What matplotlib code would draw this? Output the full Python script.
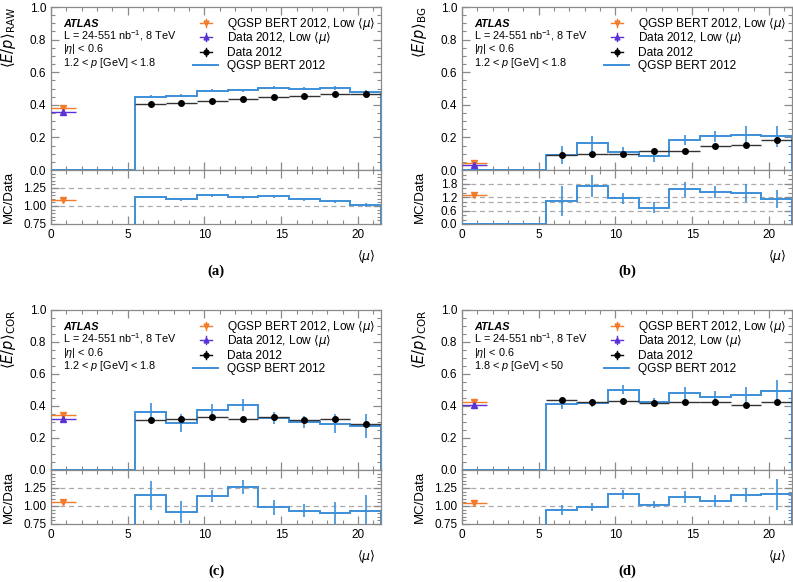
import matplotlib
matplotlib.use("Agg")
import matplotlib.pyplot as plt
from matplotlib.ticker import MultipleLocator, FixedLocator

plt.rcParams["font.family"] = ["Liberation Sans", "DejaVu Sans"]
plt.rcParams["mathtext.fontset"] = "custom"
plt.rcParams["mathtext.rm"] = "Liberation Sans"
plt.rcParams["mathtext.it"] = "Liberation Sans:italic"
plt.rcParams["mathtext.bf"] = "Liberation Sans:bold"
plt.rcParams["font.size"] = 8

# -----------------------------
# data
# -----------------------------
edges = [0, 5.5, 7.5, 9.5, 11.5, 13.5, 15.5, 17.5, 19.5, 21.5]
mu_centers = [6.5, 8.5, 10.5, 12.5, 14.5, 16.5, 18.5, 20.5]
low_mu_x = 0.8
low_mu_xerr = 0.8

panel_names = ["a", "b", "c", "d"]
ylabels = [r"$\langle E/p\rangle_{\rm RAW}$", r"$\langle E/p\rangle_{\rm BG}$",
           r"$\langle E/p\rangle_{\rm COR}$", r"$\langle E/p\rangle_{\rm COR}$"]
p_ranges = [r"1.2 < $p$ [GeV] < 1.8", r"1.2 < $p$ [GeV] < 1.8",
            r"1.2 < $p$ [GeV] < 1.8", r"1.8 < $p$ [GeV] < 50"]
info_lines = ["ATLAS", r"L = 24-551 nb$^{-1}$, 8 TeV", r"|$\eta$| < 0.6"]
legend_labels = [r"QGSP BERT 2012, Low $\langle\mu\rangle$",
                 r"Data 2012, Low $\langle\mu\rangle$",
                 "Data 2012", "QGSP BERT 2012"]

data_a = [0.402, 0.414, 0.424, 0.435, 0.445, 0.455, 0.465, 0.467]
data_b = [0.090, 0.098, 0.098, 0.116, 0.118, 0.145, 0.153, 0.182]
data_c = [0.312, 0.317, 0.329, 0.321, 0.329, 0.312, 0.317, 0.290]
data_d = [0.437, 0.423, 0.429, 0.419, 0.425, 0.425, 0.404, 0.423]
data_err_a = [0.004, 0.004, 0.004, 0.004, 0.004, 0.004, 0.004, 0.004]
data_err_b = [0.005, 0.005, 0.005, 0.005, 0.005, 0.005, 0.005, 0.006]
data_err_c = [0.005, 0.005, 0.005, 0.005, 0.005, 0.005, 0.005, 0.006]
data_err_d = [0.005, 0.005, 0.005, 0.005, 0.005, 0.005, 0.005, 0.006]

mc_a = [0.449, 0.455, 0.486, 0.490, 0.506, 0.500, 0.502, 0.478]
mc_b = [0.094, 0.163, 0.112, 0.084, 0.184, 0.206, 0.214, 0.206]
mc_c = [0.360, 0.294, 0.373, 0.406, 0.323, 0.300, 0.290, 0.275]
mc_d = [0.410, 0.419, 0.503, 0.427, 0.482, 0.458, 0.468, 0.493]
mc_err_a = [0.010, 0.010, 0.010, 0.010, 0.012, 0.010, 0.012, 0.014]
mc_err_b = [0.056, 0.045, 0.027, 0.033, 0.033, 0.033, 0.057, 0.062]
mc_err_c = [0.060, 0.058, 0.038, 0.036, 0.037, 0.036, 0.057, 0.075]
mc_err_d = [0.030, 0.027, 0.030, 0.023, 0.036, 0.037, 0.050, 0.070]

ratio_a = [1.125, 1.093, 1.148, 1.120, 1.134, 1.093, 1.065, 1.014]
ratio_b = [1.03, 1.69, 1.15, 0.72, 1.54, 1.42, 1.38, 1.12]
ratio_c = [1.150, 0.917, 1.140, 1.260, 0.980, 0.935, 0.903, 0.935]
ratio_d = [0.945, 0.986, 1.160, 1.018, 1.128, 1.069, 1.151, 1.160]
ratio_err_a = [0.020, 0.020, 0.020, 0.020, 0.020, 0.020, 0.025, 0.030]
ratio_err_b = [0.68, 0.48, 0.25, 0.25, 0.32, 0.25, 0.38, 0.40]
ratio_err_c = [0.20, 0.15, 0.085, 0.095, 0.10, 0.09, 0.15, 0.22]
ratio_err_d = [0.07, 0.06, 0.06, 0.05, 0.08, 0.08, 0.10, 0.22]

low_mc = [0.382, 0.043, 0.342, 0.427]
low_data = [0.353, 0.033, 0.319, 0.404]
low_ratio = [1.088, 1.31, 1.056, 1.04]

data_all = [data_a, data_b, data_c, data_d]
data_err_all = [data_err_a, data_err_b, data_err_c, data_err_d]
mc_all = [mc_a, mc_b, mc_c, mc_d]
mc_err_all = [mc_err_a, mc_err_b, mc_err_c, mc_err_d]
ratio_all = [ratio_a, ratio_b, ratio_c, ratio_d]
ratio_err_all = [ratio_err_a, ratio_err_b, ratio_err_c, ratio_err_d]

blue = "#3d8fd9"
orange = "#f27b2c"
purple = "#5b32d6"
grey = "#8a8a8a"

W, H = 793, 582
fig = plt.figure(figsize=(W / 100, H / 100), dpi=100)

# pixel boxes: left, right, top, main bottom, ratio bottom
boxes = [
    (51, 381, 7, 170, 224),
    (462, 792, 7, 170, 224),
    (51, 381, 310, 470, 524),
    (462, 792, 310, 470, 524),
]


def style_axis(ax):
    for s in ax.spines.values():
        s.set_color(grey)
        s.set_linewidth(0.9)
    ax.tick_params(which="both", direction="in", top=True, right=True,
                   color=grey, labelsize=8.5)
    ax.tick_params(which="major", length=6, width=0.9)
    ax.tick_params(which="minor", length=3, width=0.8)
    ax.xaxis.set_major_locator(MultipleLocator(5))
    ax.xaxis.set_minor_locator(MultipleLocator(1))
    ax.set_xlim(0, 21.5)


for i in range(4):
    l, r, t, mb, rb = boxes[i]
    pw, ph = r - l, mb - t
    ax = fig.add_axes([l / W, 1 - mb / H, pw / W, ph / H])
    rax = fig.add_axes([l / W, 1 - rb / H, pw / W, (rb - mb) / H])
    style_axis(ax)
    style_axis(rax)

    def ax_xy(dx, dy):
        # pixel offset from the panel's top-left corner -> axes fraction
        return dx / pw, 1 - dy / ph

    # main panel
    ax.stairs([0] + mc_all[i], edges, color=blue, lw=1.4, zorder=3)
    ax.errorbar(mu_centers, mc_all[i], yerr=mc_err_all[i], fmt="none",
                ecolor=blue, elinewidth=1.2, zorder=3)
    ax.errorbar(mu_centers, data_all[i], xerr=1, yerr=data_err_all[i], fmt="o",
                color="black", ecolor="#333333", ms=4, elinewidth=1, zorder=4)
    ax.errorbar([low_mu_x], [low_mc[i]], xerr=low_mu_xerr, yerr=0.01, fmt="v",
                color=orange, ms=4, elinewidth=1, zorder=5)
    ax.errorbar([low_mu_x], [low_data[i]], xerr=low_mu_xerr, yerr=0.005, fmt="^",
                color=purple, ms=4, elinewidth=1, zorder=5)
    ax.set_ylim(0, 1.0)
    ax.yaxis.set_major_locator(MultipleLocator(0.2))
    ax.yaxis.set_minor_locator(MultipleLocator(0.05))
    ax.tick_params(labelbottom=False)
    ax.set_ylabel(ylabels[i], fontsize=10.5, loc="top", math_fontfamily="dejavusans")
    ax.yaxis.set_label_coords(-0.1, 1.0)

    # info text block
    lines = info_lines + [p_ranges[i]]
    for k, (txt, dy) in enumerate(zip(lines, [20, 32.5, 45.5, 59])):
        x, y = ax_xy(12, dy)
        ax.text(x, y, txt, transform=ax.transAxes, fontsize=7.8, va="baseline",
                fontweight="bold" if k == 0 else "normal",
                fontstyle="italic" if k == 0 else "normal")

    # hand-made legend
    row_dy = [16.3, 30.3, 44.7, 58.3]
    marks = [("v", orange), ("^", purple), ("o", "black")]
    for k in range(4):
        x, y = ax_xy(155, row_dy[k])
        if k < 3:
            m, c = marks[k]
            hx, hy = 6 / pw, 4 / ph
            ax.plot([x - hx, x + hx], [y, y], color=c, lw=1,
                    transform=ax.transAxes, clip_on=False)
            ax.plot([x, x], [y - hy, y + hy], color=c, lw=1,
                    transform=ax.transAxes, clip_on=False)
            ax.plot([x], [y], marker=m, color=c, ms=3.5, ls="none",
                    transform=ax.transAxes, clip_on=False)
        else:
            x0, _ = ax_xy(142, 0)
            x1, _ = ax_xy(167, 0)
            ax.plot([x0, x1], [y, y], color=blue, lw=1.4,
                    transform=ax.transAxes, clip_on=False)
        tx, ty = ax_xy(176, row_dy[k] + 4)
        ax.text(tx, ty, legend_labels[k], transform=ax.transAxes, fontsize=8.6,
                va="baseline", math_fontfamily="dejavusans")

    # ratio panel
    rax.stairs([0] + ratio_all[i], edges, color=blue, lw=1.4, zorder=3)
    rax.errorbar(mu_centers, ratio_all[i], yerr=ratio_err_all[i], fmt="none",
                 ecolor=blue, elinewidth=1.2, zorder=3)
    rax.errorbar([low_mu_x], [low_ratio[i]], xerr=low_mu_xerr, yerr=0.01, fmt="v",
                 color=orange, ms=4, elinewidth=1, zorder=5)
    if i == 1:
        rax.set_ylim(0, 2.4)
        rax.yaxis.set_major_locator(FixedLocator([0.0, 0.6, 1.2, 1.8]))
        rax.yaxis.set_minor_locator(MultipleLocator(0.2))
        dashes = [0.6, 1.0, 1.2, 1.8]
    else:
        rax.set_ylim(0.75, 1.5)
        rax.yaxis.set_major_locator(FixedLocator([0.75, 1.0, 1.25]))
        rax.yaxis.set_minor_locator(MultipleLocator(0.05))
        dashes = [1.0, 1.25]
    rax.yaxis.set_major_formatter(plt.FormatStrFormatter("%.2f" if i != 1 else "%.1f"))
    for d in dashes:
        rax.axhline(d, color="#aaaaaa", ls=(0, (4, 3)), lw=0.9, zorder=1)
    rax.set_ylabel("MC/Data", fontsize=9.5)
    rax.yaxis.set_label_coords(-0.11, 0.5)
    rax.set_xlabel(r"$\langle\mu\rangle$", fontsize=9, loc="right",
                   math_fontfamily="dejavusans")
    rax.xaxis.set_label_coords(0.985, -0.45)

    fig.text((l + r) / 2 / W, 1 - (rb + 47) / H, "(" + panel_names[i] + ")",
             ha="center", va="center", fontsize=10.5, fontweight="bold",
             family="Liberation Serif")

fig.savefig("out.png", dpi=100)
